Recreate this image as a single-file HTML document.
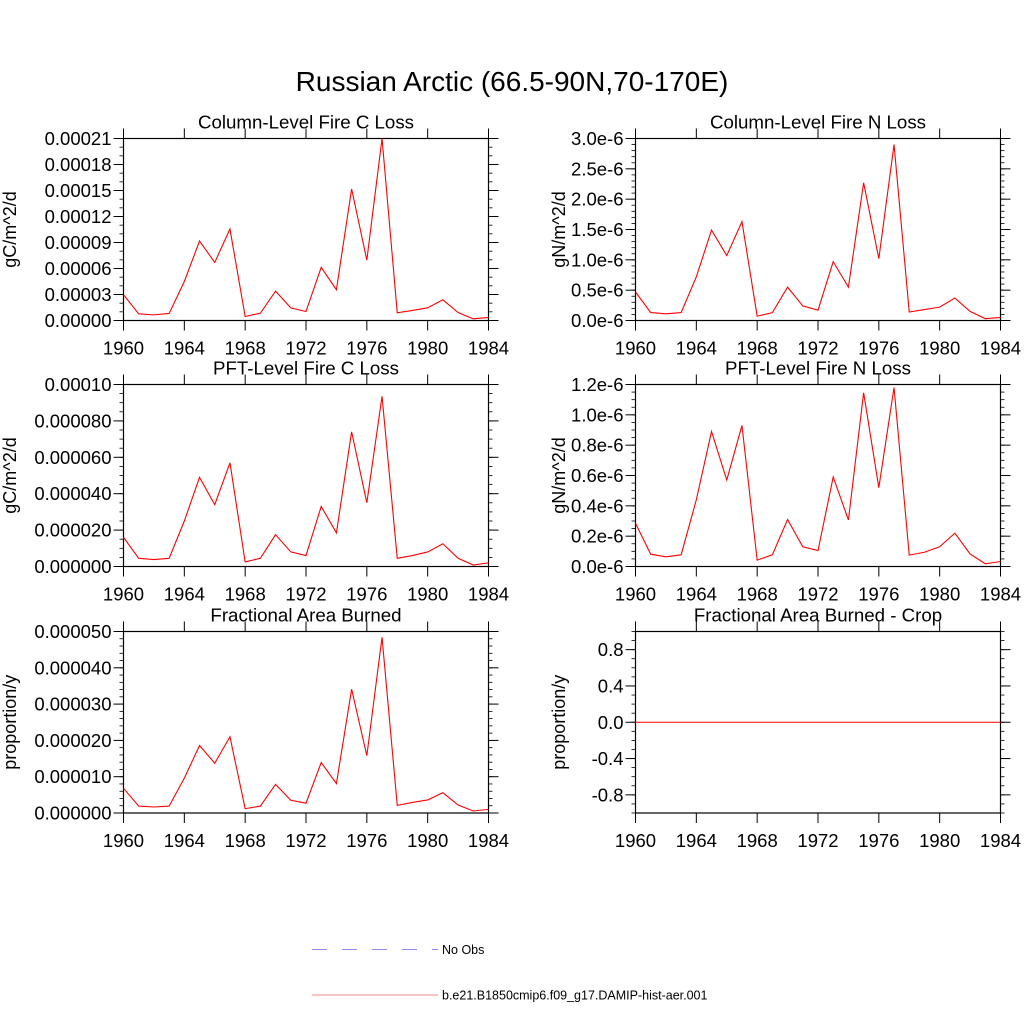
<!DOCTYPE html>
<html><head><meta charset="utf-8">
<style>
html,body{margin:0;padding:0;background:#fff;}
svg{display:block;font-family:"Liberation Sans",sans-serif;}
</style></head>
<body>
<svg id="chart" width="1024" height="1024" viewBox="0 0 1024 1024">
<text x="512" y="91" font-size="28" text-anchor="middle">Russian Arctic (66.5-90N,70-170E)</text>
<g id="panels"></g>
<g>
<line x1="312" y1="949.5" x2="438" y2="949.5" stroke="#8a8af0" stroke-width="1" stroke-dasharray="15,15"/>
<text x="442" y="954" font-size="12.5">No Obs</text>
<line x1="312" y1="995" x2="438" y2="995" stroke="#f08a8a" stroke-width="1"/>
<text x="442" y="999.5" font-size="12.5">b.e21.B1850cmip6.f09_g17.DAMIP-hist-aer.001</text>
</g>
</svg>
<script>
const years = [1960,1961,1962,1963,1964,1965,1966,1967,1968,1969,1970,1971,1972,1973,1974,1975,1976,1977,1978,1979,1980,1981,1982,1983,1984];
const xTickLabels = ["1960","1964","1968","1972","1976","1980","1984"];
const colCLoss = [2.97e-5,0.77e-5,0.65e-5,0.81e-5,4.5e-5,9.17e-5,6.7e-5,10.56e-5,0.46e-5,0.85e-5,3.39e-5,1.46e-5,1.04e-5,6.13e-5,3.55e-5,15.18e-5,6.97e-5,21.0e-5,0.89e-5,1.16e-5,1.46e-5,2.39e-5,0.92e-5,0.19e-5,0.35e-5];
const colNLoss = [0.47e-6,0.13e-6,0.11e-6,0.13e-6,0.72e-6,1.49e-6,1.07e-6,1.63e-6,0.07e-6,0.13e-6,0.55e-6,0.24e-6,0.17e-6,0.97e-6,0.55e-6,2.27e-6,1.02e-6,2.90e-6,0.14e-6,0.18e-6,0.22e-6,0.37e-6,0.15e-6,0.03e-6,0.05e-6];
const pftCLoss = [16e-6,4.5e-6,3.8e-6,4.5e-6,25e-6,49e-6,34e-6,57e-6,2.5e-6,4.5e-6,17.5e-6,8e-6,6e-6,33e-6,18.5e-6,74e-6,35e-6,93.5e-6,4.5e-6,6e-6,8e-6,12.5e-6,4.5e-6,0.8e-6,2e-6];
const pftNLoss = [2.85e-7,0.81e-7,0.64e-7,0.77e-7,4.4e-7,8.9e-7,5.7e-7,9.3e-7,0.42e-7,0.77e-7,3.1e-7,1.3e-7,1.05e-7,5.9e-7,3.07e-7,11.45e-7,5.2e-7,11.8e-7,0.75e-7,0.94e-7,1.3e-7,2.2e-7,0.83e-7,0.18e-7,0.33e-7];
const fracBurned = [6.8e-6,1.9e-6,1.65e-6,1.9e-6,9.6e-6,18.6e-6,13.7e-6,21e-6,1.2e-6,1.9e-6,7.9e-6,3.5e-6,2.7e-6,13.9e-6,8.1e-6,34.1e-6,15.8e-6,48.4e-6,2.1e-6,2.9e-6,3.6e-6,5.6e-6,2.2e-6,0.55e-6,1.0e-6];
const fracBurnedCrop = [0,0,0,0,0,0,0,0,0,0,0,0,0,0,0,0,0,0,0,0,0,0,0,0,0];
const ticksColC = ["0.00000","0.00003","0.00006","0.00009","0.00012","0.00015","0.00018","0.00021"];
const ticksColN = ["0.0e-6","0.5e-6","1.0e-6","1.5e-6","2.0e-6","2.5e-6","3.0e-6"];
const ticksPftC = ["0.000000","0.000020","0.000040","0.000060","0.000080","0.00010"];
const ticksPftN = ["0.0e-6","0.2e-6","0.4e-6","0.6e-6","0.8e-6","1.0e-6","1.2e-6"];
const ticksFrac = ["0.000000","0.000010","0.000020","0.000030","0.000040","0.000050"];
const ticksCrop = ["-0.8","-0.4","0.0","0.4","0.8"];

const NS="http://www.w3.org/2000/svg";
const root=document.getElementById('panels');
function mk(tag,attrs,parent){const e=document.createElementNS(NS,tag);for(const k in attrs)e.setAttribute(k,attrs[k]);parent.appendChild(e);return e;}

const panels=[
 {name:'column-c-loss',title:'Column-Level Fire C Loss',ylab:'gC/m^2/d',data:colCLoss,ticks:ticksColC,tickVals:[0,3e-5,6e-5,9e-5,12e-5,15e-5,18e-5,21e-5],ymin:0,ymax:21e-5,minor:3,L:123.5,R:488.5,T:138.5,B:320.5,col:0},
 {name:'column-n-loss',title:'Column-Level Fire N Loss',ylab:'gN/m^2/d',data:colNLoss,ticks:ticksColN,tickVals:[0,0.5e-6,1e-6,1.5e-6,2e-6,2.5e-6,3e-6],ymin:0,ymax:3e-6,minor:5,L:635.5,R:1000.5,T:138.5,B:320.5,col:1},
 {name:'pft-c-loss',title:'PFT-Level Fire C Loss',ylab:'gC/m^2/d',data:pftCLoss,ticks:ticksPftC,tickVals:[0,2e-5,4e-5,6e-5,8e-5,10e-5],ymin:0,ymax:10e-5,minor:4,L:123.5,R:488.5,T:384.5,B:566.5,col:0},
 {name:'pft-n-loss',title:'PFT-Level Fire N Loss',ylab:'gN/m^2/d',data:pftNLoss,ticks:ticksPftN,tickVals:[0,0.2e-6,0.4e-6,0.6e-6,0.8e-6,1e-6,1.2e-6],ymin:0,ymax:1.2e-6,minor:4,L:635.5,R:1000.5,T:384.5,B:566.5,col:1},
 {name:'fractional-area-burned',title:'Fractional Area Burned',ylab:'proportion/y',data:fracBurned,ticks:ticksFrac,tickVals:[0,1e-5,2e-5,3e-5,4e-5,5e-5],ymin:0,ymax:5e-5,minor:5,L:123.5,R:488.5,T:631.5,B:813,col:0},
 {name:'fractional-area-burned-crop',title:'Fractional Area Burned - Crop',ylab:'proportion/y',data:fracBurnedCrop,ticks:ticksCrop,tickVals:[-0.8,-0.4,0,0.4,0.8],ymin:-1,ymax:1,minor:4,L:635.5,R:1000.5,T:631.5,B:813,col:1}
];

panels.forEach(p=>{
 const g=mk('g',{},root);
 
 
 const xs=y=>p.L+(y-1960)/(1984-1960)*(p.R-p.L);
 const ys=v=>p.B-(v-p.ymin)/(p.ymax-p.ymin)*(p.B-p.T);
 const frame=mk('rect',{x:p.L,y:p.T,width:p.R-p.L,height:p.B-p.T,fill:'none',stroke:'#000','stroke-width':1.2},g);
 
 
 xTickLabels.forEach(lbl=>{
  const x=xs(+lbl);
  mk('line',{x1:x,y1:p.B,x2:x,y2:p.B+10,stroke:'#000','stroke-width':1},g);
  mk('line',{x1:x,y1:p.T,x2:x,y2:p.T-10,stroke:'#000','stroke-width':1},g);
  const t=mk('text',{x:x,y:p.B+34,'font-size':18.5,'text-anchor':'middle'},g);
  t.textContent=lbl;
  
  
 });
 const step=p.tickVals[1]-p.tickVals[0];
 for(let v=p.tickVals[0]-step; v<=p.ymax+1e-12; v+=step/p.minor){
  if(v<p.ymin-1e-12) continue;
  const y=ys(v);
  mk('line',{x1:p.L,y1:y,x2:p.L-4,y2:y,stroke:'#000','stroke-width':0.8},g);
  mk('line',{x1:p.R,y1:y,x2:p.R+4,y2:y,stroke:'#000','stroke-width':0.8},g);
 }
 p.tickVals.forEach((v,i)=>{
  const y=ys(v);
  mk('line',{x1:p.L,y1:y,x2:p.L-10,y2:y,stroke:'#000','stroke-width':1},g);
  mk('line',{x1:p.R,y1:y,x2:p.R+10,y2:y,stroke:'#000','stroke-width':1},g);
  const t=mk('text',{x:p.L-12,y:y+6.5,'font-size':18.5,'text-anchor':'end'},g);
  t.textContent=p.ticks[i];
  
  
 });
 const tt=mk('text',{x:(p.L+p.R)/2,y:p.T-10,'font-size':18.7,'text-anchor':'middle'},g);
 tt.textContent=p.title;
 
 
 const yx=p.col===0?16:565;
 const yl=mk('text',{x:yx,y:(p.T+p.B)/2,'font-size':18,'text-anchor':'middle',transform:`rotate(-90 ${yx} ${(p.T+p.B)/2})`},g);
 yl.textContent=p.ylab;
 
 
 const pts=p.data.map((v,i)=>xs(years[i]).toFixed(2)+','+ys(v).toFixed(2)).join(' ');
 const line=mk('polyline',{points:pts,fill:'none',stroke:'#ff0000','stroke-width':1.1},g);
 
 
});
</script>
</body></html>
